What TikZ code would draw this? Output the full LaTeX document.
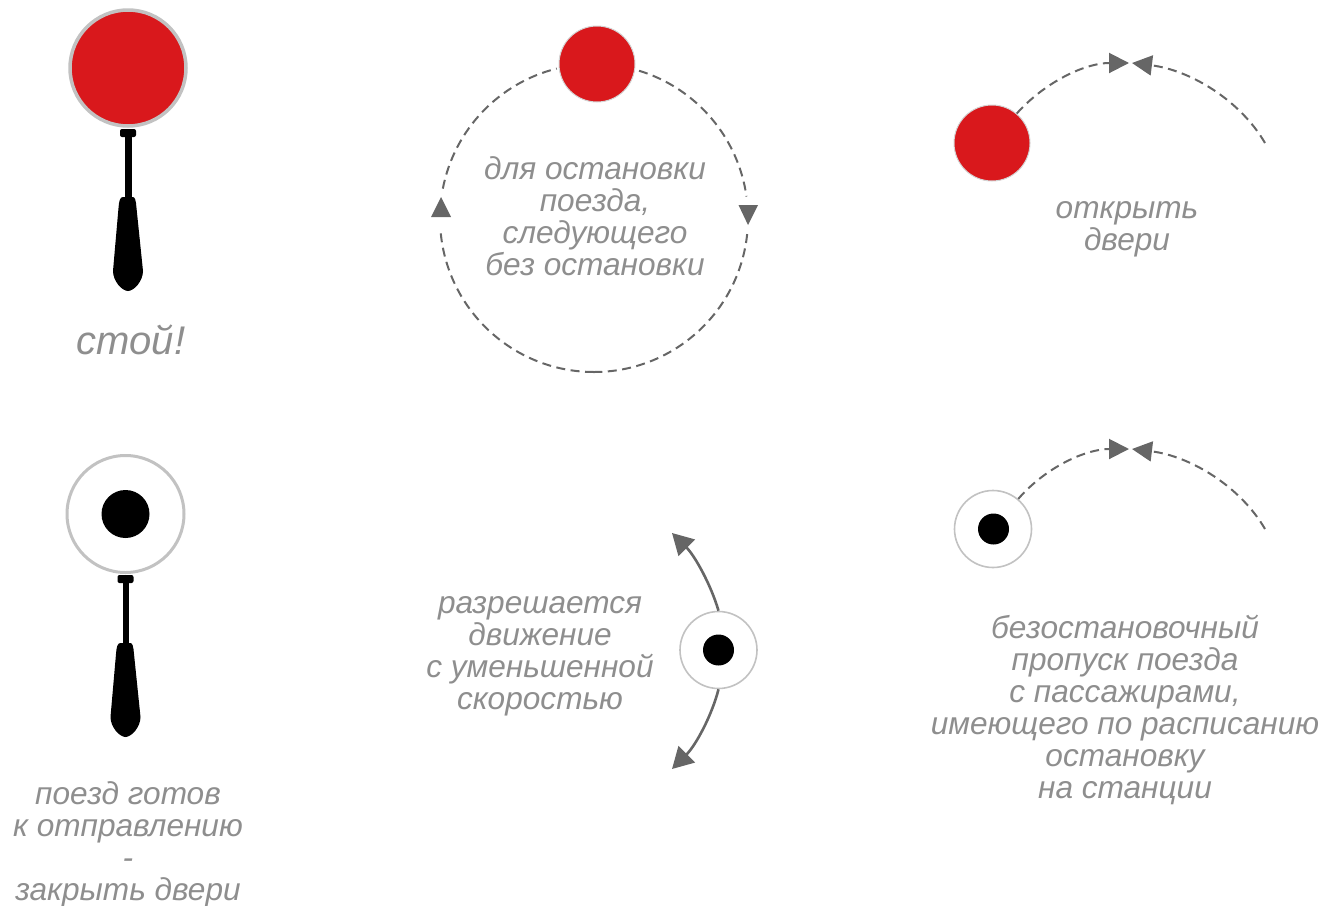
\documentclass[tikz,border=0pt]{standalone}
\usepackage{fontspec}
\setmainfont{Liberation Sans}
\usetikzlibrary{arrows.meta}
\definecolor{sigred}{HTML}{D9181C}
\definecolor{rimgray}{HTML}{C2C2C2}
\definecolor{txtgray}{HTML}{8E8E8E}
\definecolor{arcgray}{HTML}{666666}
\tikzset{
  x=1pt,y=-1pt,
  redbig/.style={circle,fill=sigred,draw=rimgray,line width=3.5pt,minimum size=116pt,inner sep=0},
  redsmall/.style={circle,fill=sigred,draw=rimgray!70,line width=1pt,minimum size=76pt,inner sep=0},
  whitebig/.style={circle,fill=white,draw=rimgray,line width=3pt,minimum size=117pt,inner sep=0},
  whitesmall/.style={circle,fill=white,draw=rimgray,line width=1.6pt,minimum size=77pt,inner sep=0},
  dotbig/.style={circle,fill=black,minimum size=48pt,inner sep=0},
  dotsmall/.style={circle,fill=black,minimum size=31pt,inner sep=0},
  lab/.style={align=center,text=txtgray,inner sep=0,font=\fontsize{31.6}{32}\selectfont\itshape},
  labbig/.style={lab,font=\fontsize{40}{42}\selectfont\itshape},
  dashline/.style={draw=arcgray,line width=2pt,dash pattern=on 9pt off 5.5pt},
  solidline/.style={draw=arcgray,line width=2.6pt},
  tip/.style={-{Triangle[length=20pt,width=20pt,color=arcgray]}},
  tipbig/.style={-{Triangle[length=21pt,width=23pt,color=arcgray]}},
  handlefill/.style={fill=black,draw=none},
}
\newcommand{\paddle}[2]{%
  \begin{scope}[shift={(#1,#2)}]
    \fill[rounded corners=2pt] (-8,61) rectangle (8,69);
    \fill (-3,65) rectangle (3.5,135);
    \path[handlefill] (-5,129) .. controls (-8,129) and (-9,133) .. (-9.5,140)
      -- (-15,203) .. controls (-15,213) and (-6,223) .. (0,223)
      .. controls (6,223) and (15,213) .. (15,203)
      -- (8.5,140) .. controls (8,133) and (7,129) .. (5,129) -- cycle;
  \end{scope}}
\begin{document}
\begin{tikzpicture}
\useasboundingbox (0,0) rectangle (1322,905);
% paddles
\paddle{128}{68}
\node[redbig] (stopbig) at (128,68) {};
\paddle{125.5}{514}
\node[whitebig] (gobig) at (125.5,514) {};
\node[dotbig] (godot) at (125.5,514) {};
\node[labbig] (t1) at (131,340) {стой!};
\node[lab,anchor=north] (t2) at (128,781) {поезд готов\\к отправлению\\-\\закрыть двери};
% dashed circle
\coordinate (cc) at (594,218);
\draw[dashline] (cc) ++(-73:154) arc (-73:-8:154);
\draw[dashline] (cc) ++(6:154) arc (6:90:154);
\draw[dashline] (cc) ++(90:154) arc (90:176:154);
\draw[dashline] (cc) ++(191:154) arc (191:256:154);
\node[redsmall] (stopcircle) at (597,64) {};
\fill[arcgray] (738.5,205) -- (758,205) -- (748,225) -- cycle;
\fill[arcgray] (431,217) -- (451,217) -- (441,197) -- cycle;
\node[lab,anchor=north] (t3) at (595,156) {для остановки\\поезда,\\следующего\\без остановки};
% top right
\node[redsmall] (stopright) at (992,143) {};
\coordinate (m1) at (1129,63);
\coordinate (m1r) at (1265,143);
\coordinate (m1l) at (1132,63);
\draw[dashline,tip] (stopright.50) .. controls (1045,82) and (1085,63) .. (m1);
\draw[dashline,tip] (m1r) .. controls (1240,100) and (1190,70) .. (m1l);
\node[lab,anchor=north] (t4) at (1127,201) {открыть\\двери};
% bottom right
\node[whitesmall] (goright) at (993,529) {};
\node[dotsmall] (goright-dot) at (993.5,529) {};
\coordinate (m2) at (1129,449);
\coordinate (m2r) at (1265,529);
\coordinate (m2l) at (1132,449);
\draw[dashline,tip] (goright.50) .. controls (1045,468) and (1085,449) .. (m2);
\draw[dashline,tip] (m2r) .. controls (1240,486) and (1190,456) .. (m2l);
\node[lab,anchor=north] (t6) at (1125,614.5) {безостановочный\\пропуск поезда\\с пассажирами,\\имеющего по расписанию\\остановку\\на станции};
% middle
\node[whitesmall] (slow) at (718.5,650) {};
\node[dotsmall] (slowdot) at (718.5,650) {};
\coordinate (up) at (672,533);
\coordinate (down) at (672,769);
\draw[solidline,tipbig] (slow.north) .. controls (711,585) and (695,556) .. (up);
\draw[solidline,tipbig] (slow.south) .. controls (712,715) and (696,745) .. (down);
\node[lab,anchor=north] (t5) at (540,596.5) {разрешается\\движение\\с уменьшенной\\скоростью};
\end{tikzpicture}
\end{document}
